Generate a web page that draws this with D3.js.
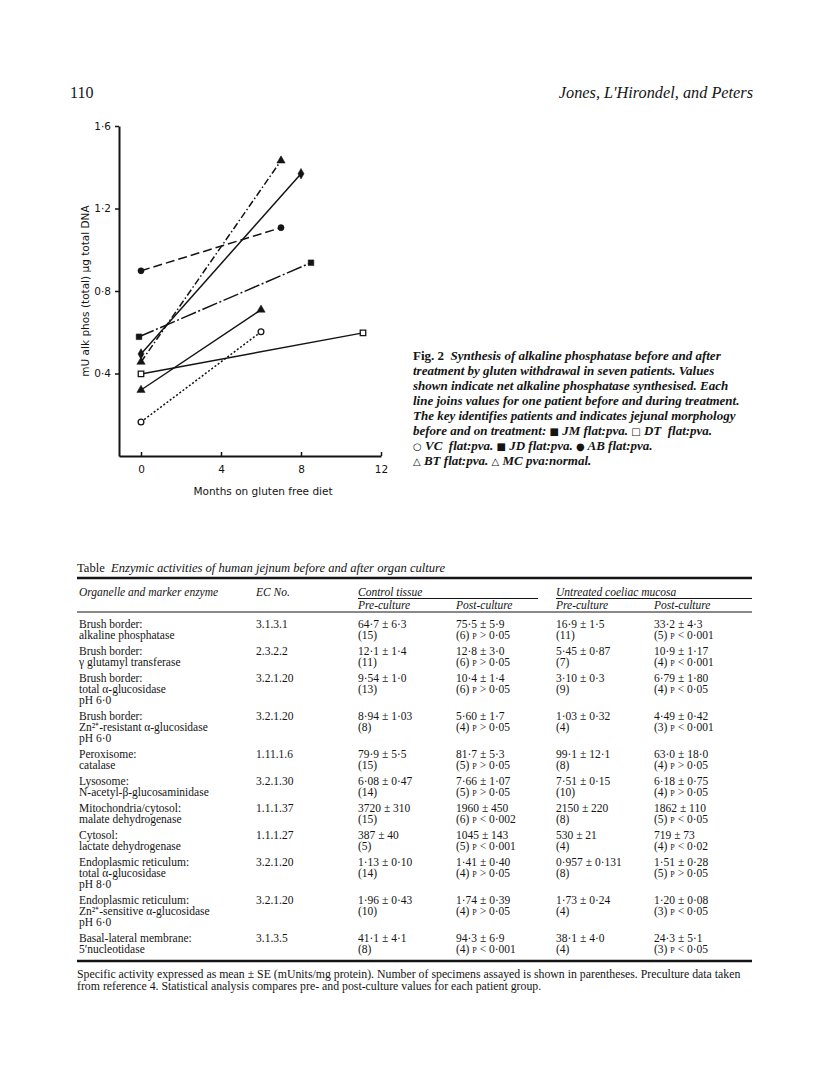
<!DOCTYPE html>
<html><head><meta charset="utf-8">
<script src="https://cdn.jsdelivr.net/npm/d3@7"></script>
<style>body{margin:0;background:#fff}svg{display:block}</style>
</head><body>
<script>
// ---------- chart data ----------
const patients = ["JM","DT","VC","JD","AB","BT","MC"];
const monthsBefore = [-0.1, 0, 0, 0, 0, 0, 0];
const monthsAfter = [8.5, 11.1, 6, 8, 7, 6, 7];
const valueBefore = [0.578, 0.398, 0.165, 0.495, 0.898, 0.320, 0.456];
const valueAfter = [0.937, 0.597, 0.602, 1.369, 1.107, 0.709, 1.432];
const xTicks = [0, 4, 8, 12];
const yTicks = [0.4, 0.8, 1.2, 1.6];
const yTickLabels = ["0·4", "0·8", "1·2", "1·6"];

// ---------- table data ----------
const organelles = [["Brush border:","alkaline phosphatase"],["Brush border:","γ glutamyl transferase"],["Brush border:","total α-glucosidase","pH 6·0"],["Brush border:","Zn²⁺-resistant α-glucosidase","pH 6·0"],["Peroxisome:","catalase"],["Lysosome:","N-acetyl-β-glucosaminidase"],["Mitochondria/cytosol:","malate dehydrogenase"],["Cytosol:","lactate dehydrogenase"],["Endoplasmic reticulum:","total α-glucosidase","pH 8·0"],["Endoplasmic reticulum:","Zn²⁺-sensitive α-glucosidase","pH 6·0"],["Basal-lateral membrane:","5′nucleotidase"]];
const ecNumbers = ["3.1.3.1","2.3.2.2","3.2.1.20","3.2.1.20","1.11.1.6","3.2.1.30","1.1.1.37","1.1.1.27","3.2.1.20","3.2.1.20","3.1.3.5"];
const controlPre = ["64·7 ± 6·3","12·1 ± 1·4","9·54 ± 1·0","8·94 ± 1·03","79·9 ± 5·5","6·08 ± 0·47","3720 ± 310","387 ± 40","1·13 ± 0·10","1·96 ± 0·43","41·1 ± 4·1"];
const controlPreN = ["(15)","(11)","(13)","(8)","(15)","(14)","(15)","(5)","(14)","(10)","(8)"];
const controlPost = ["75·5 ± 5·9","12·8 ± 3·0","10·4 ± 1·4","5·60 ± 1·7","81·7 ± 5·3","7·66 ± 1·07","1960 ± 450","1045 ± 143","1·41 ± 0·40","1·74 ± 0·39","94·3 ± 6·9"];
const controlPostN = ["(6)","(6)","(6)","(4)","(5)","(5)","(6)","(5)","(4)","(4)","(4)"];
const controlPostP = ["> 0·05","> 0·05","> 0·05","> 0·05","> 0·05","> 0·05","< 0·002","< 0·001","> 0·05","> 0·05","< 0·001"];
const coeliacPre = ["16·9 ± 1·5","5·45 ± 0·87","3·10 ± 0·3","1·03 ± 0·32","99·1 ± 12·1","7·51 ± 0·15","2150 ± 220","530 ± 21","0·957 ± 0·131","1·73 ± 0·24","38·1 ± 4·0"];
const coeliacPreN = ["(11)","(7)","(9)","(4)","(8)","(10)","(8)","(4)","(8)","(4)","(4)"];
const coeliacPost = ["33·2 ± 4·3","10·9 ± 1·17","6·79 ± 1·80","4·49 ± 0·42","63·0 ± 18·0","6·18 ± 0·75","1862 ± 110","719 ± 73","1·51 ± 0·28","1·20 ± 0·08","24·3 ± 5·1"];
const coeliacPostN = ["(5)","(4)","(4)","(3)","(4)","(4)","(5)","(4)","(5)","(3)","(3)"];
const coeliacPostP = ["< 0·001","< 0·001","< 0·05","< 0·001","> 0·05","> 0·05","< 0·05","< 0·02","> 0·05","< 0·05","< 0·05"];

// ---------- styles (kept apart from data) ----------
const ink = "#141414";
const serif = "'Liberation Serif', 'Times New Roman', serif";
const sans = "'DejaVu Sans', sans-serif";
const patientStyle = {
  JM: {dash: "16,2.5,2,2.5", sym: d3.symbolSquare, size: 32, fill: true},
  DT: {dash: null, sym: d3.symbolSquare, size: 30, fill: false},
  VC: {dash: "2,2", sym: d3.symbolCircle, size: 26, fill: false},
  JD: {dash: null, sym: d3.symbolDiamond, size: 32, fill: true},
  AB: {dash: "9,4", sym: d3.symbolCircle, size: 30, fill: true},
  BT: {dash: null, sym: d3.symbolTriangle, size: 30, fill: true},
  MC: {dash: "7,2.5,1.5,2.5", sym: d3.symbolTriangle, size: 30, fill: true}
};

const svg = d3.select("body").append("svg").attr("width", 816).attr("height", 1079);

// ---------- page header ----------
svg.append("text").attr("x", 70).attr("y", 98).text("110")
  .style("font-family", serif).style("font-size", "16px").attr("fill", ink);
svg.append("text").attr("x", 753).attr("y", 98).attr("text-anchor", "end")
  .text("Jones, L'Hirondel, and Peters")
  .style("font-family", serif).style("font-size", "16.3px").style("font-style", "italic").attr("fill", ink);

// ---------- chart ----------
const x = d3.scaleLinear().domain([-1.1, 12]).range([119, 381]);
const y = d3.scaleLinear().domain([0, 1.6]).range([456, 126]);

const gx = svg.append("g").attr("transform", "translate(0,456)")
  .call(d3.axisBottom(x).tickValues(xTicks).tickSize(-4).tickSizeOuter(0).tickPadding(10).tickFormat(d3.format("d")));
const gy = svg.append("g").attr("transform", "translate(119,0)")
  .call(d3.axisLeft(y).tickValues(yTicks).tickSize(4).tickSizeOuter(0).tickPadding(4).tickFormat((d, i) => yTickLabels[i]));
[gx, gy].forEach(g => {
  g.select(".domain").attr("stroke", ink).attr("stroke-width", 2);
  g.selectAll(".tick line").attr("stroke", ink).attr("stroke-width", 1.5);
  g.selectAll(".tick text").attr("fill", ink).style("font-family", sans).style("font-size", "10.5px");
});

svg.append("text").attr("x", 263).attr("y", 495).attr("text-anchor", "middle")
  .text("Months on gluten free diet")
  .style("font-family", sans).style("font-size", "10.5px").attr("fill", ink);
svg.append("text").attr("transform", "translate(89,291) rotate(-90)").attr("text-anchor", "middle")
  .text("mU alk phos (total) µg total DNA")
  .style("font-family", sans).style("font-size", "10.5px").attr("fill", ink);

const series = patients.map((p, i) => ({p, pts: [[monthsBefore[i], valueBefore[i]], [monthsAfter[i], valueAfter[i]]]}));
const line = d3.line().x(d => x(d[0])).y(d => y(d[1]));
svg.append("g").selectAll("path").data(series).join("path")
  .attr("d", d => line(d.pts)).attr("fill", "none").attr("stroke", ink).attr("stroke-width", 1.5)
  .attr("stroke-dasharray", d => patientStyle[d.p].dash);
const markG = svg.append("g");
series.forEach(s => {
  const st = patientStyle[s.p];
  markG.selectAll(null).data(s.pts).join("path")
    .attr("transform", d => `translate(${x(d[0])},${y(d[1])})`)
    .attr("d", d3.symbol().type(st.sym).size(st.size))
    .attr("fill", st.fill ? ink : "#fff").attr("stroke", ink).attr("stroke-width", st.fill ? 0.5 : 1.3);
});

// ---------- caption ----------
const capX = 413, capY0 = 360, capDy = 15;
const captionLines = [
  [["Fig. 2", "n"], ["  Synthesis of alkaline phosphatase before and after", "i"]],
  [["treatment by gluten withdrawal in seven patients. Values", "i"]],
  [["shown indicate net alkaline phosphatase synthesised. Each", "i"]],
  [["line joins values for one patient before and during treatment.", "i"]],
  [["The key identifies patients and indicates jejunal morphology", "i"]],
  [["before and on treatment: ", "i"], ["■", "s"], [" JM flat:pva. ", "i"], ["□", "s"], [" DT  flat:pva.", "i"]],
  [["○", "s"], [" VC  flat:pva. ", "i"], ["■", "s"], [" JD flat:pva. ", "i"], ["●", "s"], [" AB flat:pva.", "i"]],
  [["△", "s"], [" BT flat:pva. ", "i"], ["△", "s"], [" MC pva:normal.", "i"]]
];
captionLines.forEach((segs, li) => {
  const t = svg.append("text").attr("x", capX).attr("y", capY0 + li * capDy)
    .style("font-family", serif).style("font-size", "13px").attr("fill", ink)
    .attr("xml:space", "preserve").style("white-space", "pre");
  segs.forEach(([txt, k]) => {
    const ts = t.append("tspan").text(txt);
    if (k === "i") ts.style("font-style", "italic").style("font-weight", "bold");
    if (k === "n") ts.style("font-weight", "bold");
    if (k === "s") ts.style("font-family", sans).style("font-size", "10px");
  });
});

// ---------- table ----------
const L = 77, R = 752;
const colX = {org: 79, ec: 256, cpre: 358, cpost: 456, upre: 556, upost: 654};
const tfs = "11.5px";
function txt(xp, yc, s, opt = {}) {
  const t = svg.append("text").attr("x", xp).attr("y", yc + 4)
    .style("font-family", serif).style("font-size", opt.size || tfs).attr("fill", ink);
  if (opt.italic) t.style("font-style", "italic");
  t.text(s);
  return t;
}
const title = svg.append("text").attr("x", L).attr("y", 572).style("font-family", serif).style("font-size", "12.6px").attr("fill", ink)
  .attr("xml:space", "preserve").style("white-space", "pre");
title.append("tspan").text("Table  ");
title.append("tspan").style("font-style", "italic").text("Enzymic activities of human jejnum before and after organ culture");
svg.append("line").attr("x1", L).attr("x2", R).attr("y1", 578).attr("y2", 578).attr("stroke", ink).attr("stroke-width", 2.5);

txt(colX.org, 592, "Organelle and marker enzyme", {italic: true});
txt(colX.ec, 592, "EC No.", {italic: true});
txt(colX.cpre, 592, "Control tissue", {italic: true});
txt(colX.upre, 592, "Untreated coeliac mucosa", {italic: true});
svg.append("line").attr("x1", colX.cpre).attr("x2", 538).attr("y1", 598.5).attr("y2", 598.5).attr("stroke", ink).attr("stroke-width", 1);
svg.append("line").attr("x1", colX.upre).attr("x2", R).attr("y1", 598.5).attr("y2", 598.5).attr("stroke", ink).attr("stroke-width", 1);
txt(colX.cpre, 605, "Pre-culture", {italic: true});
txt(colX.cpost, 605, "Post-culture", {italic: true});
txt(colX.upre, 605, "Pre-culture", {italic: true});
txt(colX.upost, 605, "Post-culture", {italic: true});
svg.append("line").attr("x1", L).attr("x2", R).attr("y1", 612).attr("y2", 612).attr("stroke", ink).attr("stroke-width", 1.2);

const lh = 11, gap = 5;
function pText(xp, yc, n, p) {
  const t = svg.append("text").attr("x", xp).attr("y", yc + 4)
    .style("font-family", serif).style("font-size", tfs).attr("fill", ink)
    .attr("xml:space", "preserve").style("white-space", "pre");
  t.append("tspan").text(n + " ");
  t.append("tspan").style("font-size", "8px").text("P");
  t.append("tspan").text(" " + p);
}
let yc = 624;
organelles.forEach((lines, i) => {
  lines.forEach((s, j) => txt(colX.org, yc + j * lh, s));
  txt(colX.ec, yc, ecNumbers[i]);
  txt(colX.cpre, yc, controlPre[i]);
  txt(colX.cpre, yc + lh, controlPreN[i]);
  txt(colX.cpost, yc, controlPost[i]);
  pText(colX.cpost, yc + lh, controlPostN[i], controlPostP[i]);
  txt(colX.upre, yc, coeliacPre[i]);
  txt(colX.upre, yc + lh, coeliacPreN[i]);
  txt(colX.upost, yc, coeliacPost[i]);
  pText(colX.upost, yc + lh, coeliacPostN[i], coeliacPostP[i]);
  yc += lines.length * lh + gap;
});
const bottomY = yc - gap + 1;
svg.append("line").attr("x1", L).attr("x2", R).attr("y1", bottomY).attr("y2", bottomY).attr("stroke", ink).attr("stroke-width", 2.5);
txt(L, bottomY + 13, "Specific activity expressed as mean ± SE (mUnits/mg protein). Number of specimens assayed is shown in parentheses. Preculture data taken", {size: "11.8px"});
txt(L, bottomY + 25, "from reference 4. Statistical analysis compares pre- and post-culture values for each patient group.", {size: "11.8px"});
</script>
</body></html>
